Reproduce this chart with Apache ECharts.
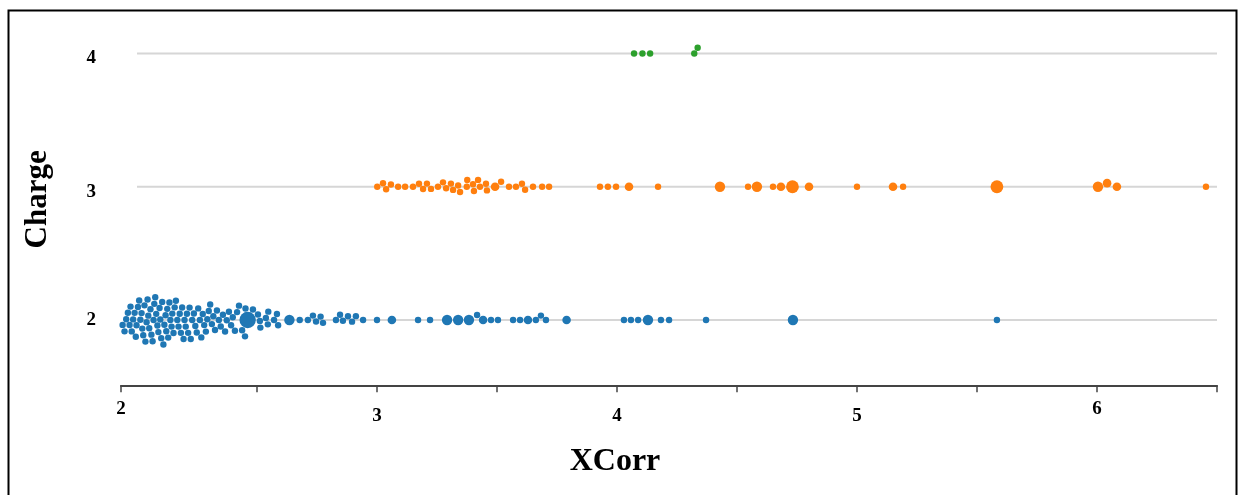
<!DOCTYPE html>
<html>
<head>
<meta charset="utf-8">
<script src="https://cdn.jsdelivr.net/npm/echarts@6/dist/echarts.min.js"></script>
<style>
  html, body { margin: 0; padding: 0; background: #fff; }
  #chart { width: 1243px; height: 495px; }
</style>
</head>
<body>
<div id="chart"></div>
<script>
// XCorr of each identification, per charge state; count = how many hits share the spot
var charge2X = [
  1.921, 1.930, 1.940,
  1.948, 1.955, 1.962, 1.969,
  1.973, 1.978, 1.984, 1.990, 1.995,
  1.998, 2.004, 2.009, 2.014, 2.019,
  2.022, 2.026, 2.031, 2.035, 2.040, 2.044,
  2.047, 2.051, 2.056, 2.060, 2.065, 2.069,
  2.072, 2.076, 2.080, 2.085, 2.089, 2.094,
  2.097, 2.101, 2.105, 2.110, 2.114, 2.119,
  2.122, 2.126, 2.130, 2.135, 2.139, 2.144,
  2.147, 2.152, 2.157, 2.162, 2.168,
  2.173, 2.178, 2.183, 2.188, 2.194,
  2.198, 2.203, 2.208, 2.213, 2.219,
  2.224, 2.230, 2.237, 2.243,
  2.249, 2.255, 2.262, 2.268,
  2.274, 2.280, 2.287, 2.293,
  2.299, 2.305, 2.312, 2.318,
  2.325, 2.333, 2.341,
  2.349, 2.358, 2.367,
  2.374, 2.383, 2.392,
  2.399, 2.408, 2.417,
  2.425, 2.438,
  2.450, 2.452, 2.461, 2.483, 2.504, 2.512, 2.514, 2.537, 2.545, 2.547,
  2.571, 2.583, 2.588, 2.635, 2.678, 2.712, 2.733, 2.746, 2.765, 2.775,
  2.829, 2.846, 2.858, 2.879, 2.896, 2.912, 2.942, 3.000, 3.062, 3.171,
  3.221, 3.292, 3.338, 3.383, 3.417, 3.442, 3.475, 3.504, 3.567, 3.596,
  3.629, 3.662, 3.683, 3.704, 3.790, 4.029, 4.058, 4.088, 4.129, 4.183,
  4.217, 4.371, 4.733, 5.583
];
var charge2Count = {2.461: 6, 2.635: 3, 3.062: 2, 3.292: 3, 3.338: 3, 3.383: 3,
  3.442: 2, 3.629: 2, 3.790: 2, 4.129: 3, 4.733: 3};

var charge3X = [
  3.001, 3.025, 3.038, 3.058, 3.088, 3.117, 3.150, 3.175, 3.192, 3.208,
  3.225, 3.254, 3.275, 3.288, 3.308, 3.317, 3.338, 3.346, 3.374, 3.376,
  3.400, 3.404, 3.421, 3.429, 3.454, 3.458, 3.492, 3.517, 3.550, 3.579,
  3.604, 3.617, 3.650, 3.688, 3.717, 3.929, 3.962, 3.996, 4.050, 4.171,
  4.429, 4.546, 4.583, 4.650, 4.683, 4.731, 4.800, 5.000, 5.150, 5.192,
  5.583, 6.004, 6.042, 6.083, 6.454
];
var charge3Count = {3.492: 2, 4.050: 2, 4.429: 3, 4.583: 3, 4.683: 2, 4.731: 4,
  4.800: 2, 5.150: 2, 5.583: 4, 6.004: 3, 6.042: 2, 6.083: 2};

var charge4X = [4.071, 4.106, 4.138, 4.322, 4.336];
var charge4Count = {};

var charges = [2, 3, 4];
var xTicks = [1.9333, 2.5, 3, 3.5, 4, 4.5, 5, 5.5, 6, 6.5];
var xLabelVals = [1.9333, 3, 4, 5, 6];
var colors = ['#1f77b4', '#ff7f0e', '#2ca02c'];

var groups = [
  { charge: 2, xs: charge2X, counts: charge2Count },
  { charge: 3, xs: charge3X, counts: charge3Count },
  { charge: 4, xs: charge4X, counts: charge4Count }
];

var radiusByCount = { 1: 3.2, 2: 4.3, 3: 5.2, 4: 6.4, 6: 8.2 };
function radius(c) { return radiusByCount[c] || 3.2; }

var chart = echarts.init(document.getElementById('chart'));

var serif = '"Liberation Serif", "DejaVu Serif", serif';

function buildSeries(withSwarm) {
  var series = [];
  // grey guide lines for each charge
  charges.forEach(function (c) {
    series.push({
      type: 'line', data: [[2, c], [6.5, c]], symbol: 'none', silent: true, z: 1,
      lineStyle: { color: '#d6d6d6', width: 2 }
    });
  });
  groups.forEach(function (g, gi) {
    var data = g.xs.map(function (x, i) {
      var cnt = g.counts[x] || 1;
      var y = withSwarm ? withSwarm[gi][i] : g.charge;
      return [x, y, cnt];
    });
    series.push({
      type: 'scatter', data: data, z: 3,
      symbolSize: function (v) { return 2 * radius(v[2]); },
      itemStyle: { color: colors[gi], opacity: 1 }
    });
  });
  return series;
}

var option = {
  animation: false,
  grid: { left: 121, right: 26, top: 13.5, bottom: 109.7 },
  xAxis: {
    type: 'value', min: 1.9333, max: 6.5,
    splitLine: { show: false },
    axisLine: { lineStyle: { color: '#444', width: 2 } },
    axisTick: { customValues: xTicks, length: 7, lineStyle: { color: '#444', width: 1.5 } },
    axisLabel: {
      customValues: xLabelVals, margin: 14,
      formatter: function (v) {
        var n = Math.round(v);
        return (n === 2 || n === 6) ? '{e|' + n + '}' : '{m|' + n + '}';
      },
      rich: {
        e: { fontFamily: serif, fontWeight: 'bold', fontSize: 19, color: '#000' },
        m: { fontFamily: serif, fontWeight: 'bold', fontSize: 19, color: '#000', padding: [7, 0, 0, 0] }
      }
    }
  },
  yAxis: {
    type: 'value', min: 1.51, max: 4.3,
    name: 'Charge', nameLocation: 'middle', nameGap: 68, nameRotate: 90,
    nameTextStyle: { fontFamily: serif, fontWeight: 'bold', fontSize: 31, color: '#000' },
    splitLine: { show: false },
    axisLine: { show: false },
    axisTick: { show: false },
    axisLabel: {
      customValues: charges, margin: 25,
      formatter: function (v) { return v === 2 ? '{a|2}' : '{b|' + v + '}'; },
      rich: {
        a: { fontFamily: serif, fontWeight: 'bold', fontSize: 19, color: '#000' },
        b: { fontFamily: serif, fontWeight: 'bold', fontSize: 19, color: '#000', padding: [10, 0, 0, 0] }
      }
    }
  },
  graphic: [
    { type: 'rect', shape: { x: 8.5, y: 10.5, width: 1228, height: 500 },
      style: { fill: 'none', stroke: '#000', lineWidth: 2 }, z: 0 },
    { type: 'text', x: 615, y: 462,
      style: { text: 'XCorr', fontFamily: serif, fontWeight: 'bold', fontSize: 32,
        fill: '#000', textAlign: 'center', textVerticalAlign: 'middle' } }
  ],
  series: buildSeries(null)
};
chart.setOption(option);

// beeswarm: big dots sit on the line first, the rest stack around them (pixel space)
var PAD = 0.3;
function swarm(g) {
  var pts = g.xs.map(function (x, i) {
    var p = chart.convertToPixel({ gridIndex: 0 }, [x, g.charge]);
    return { i: i, px: p[0], py: p[1], r: radius(g.counts[x] || 1) };
  });
  var order = pts.slice().sort(function (a, b) { return (b.r - a.r) || (a.px - b.px); });
  var placed = [];
  order.forEach(function (p) {
    var cands = [0];
    placed.forEach(function (q) {
      var d = p.r + q.r + PAD, dx = p.px - q.px;
      if (Math.abs(dx) < d) {
        var dy = Math.sqrt(d * d - dx * dx);
        cands.push(q.dy - dy, q.dy + dy);
      }
    });
    cands.sort(function (a, b) { return Math.abs(a) - Math.abs(b); });
    for (var k = 0; k < cands.length; k++) {
      var c = cands[k];
      var ok = placed.every(function (q) {
        var d = p.r + q.r + PAD - 1e-6, dx = p.px - q.px, dy = c - q.dy;
        return dx * dx + dy * dy >= d * d;
      });
      if (ok) { p.dy = c; break; }
    }
    placed.push(p);
  });
  return pts.map(function (p) {
    return chart.convertFromPixel({ gridIndex: 0 }, [p.px, p.py + p.dy])[1];
  });
}

var ys = groups.map(swarm);
chart.setOption({ series: buildSeries(ys) });
</script>
</body>
</html>
